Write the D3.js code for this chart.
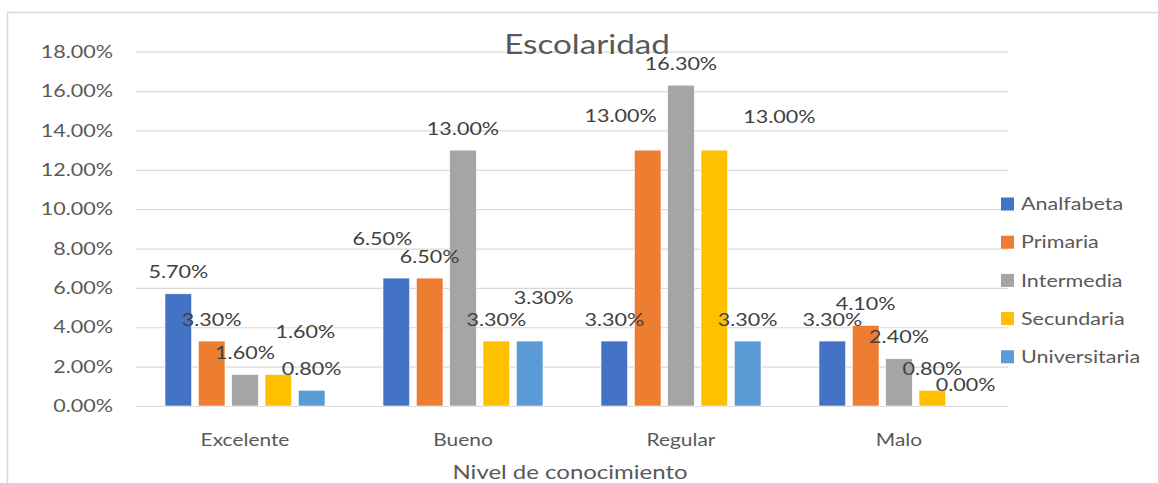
<!DOCTYPE html>
<html>
<head>
<meta charset="utf-8">
<script src="https://cdn.jsdelivr.net/npm/d3@7"></script>
<style>
  html, body { margin: 0; padding: 0; background: #ffffff; }
  svg { display: block; }
  text { font-family: Lato, "Open Sans", sans-serif; }
</style>
</head>
<body>
<svg id="chart" width="1158" height="483"></svg>
<script>
// Niveles de conocimiento (eje X) y grupos de escolaridad (series)
const categories = ["Excelente", "Bueno", "Regular", "Malo"];
const series = ["Analfabeta", "Primaria", "Intermedia", "Secundaria", "Universitaria"];

// Porcentaje de cada serie por nivel de conocimiento
const analfabeta    = [5.7, 6.5, 3.3, 3.3];
const primaria      = [3.3, 6.5, 13.0, 4.1];
const intermedia    = [1.6, 13.0, 16.3, 2.4];
const secundaria    = [1.6, 3.3, 13.0, 0.8];
const universitaria = [0.8, 3.3, 3.3, 0.0];

const yTicks = [0, 2, 4, 6, 8, 10, 12, 14, 16, 18];

const colors = ["#4472C4", "#ED7D31", "#A5A5A5", "#FFC000", "#5B9BD5"];

// Etiquetas de datos desplazadas a mano (dx, dy extra en px)
const labelNudge = {
  "Excelente|Secundaria": [27, -21],
  "Bueno|Analfabeta": [-14, -18],
  "Bueno|Universitaria": [14, -22],
  "Regular|Primaria": [-27, -13],
  "Regular|Secundaria": [65, -12]
};

const valuesBySeries = [analfabeta, primaria, intermedia, secundaria, universitaria];
const rows = [];
categories.forEach((c, ci) => {
  series.forEach((s, si) => {
    rows.push({ cat: c, ser: s, value: valuesBySeries[si][ci], si });
  });
});

const svg = d3.select("#chart");
const SX = 1.23; // horizontal stretch applied to all text

function label(g, x, y, str, size, fill, anchor) {
  return g.append("text")
    .attr("transform", `translate(${x},${y}) scale(${SX},1)`)
    .attr("text-anchor", anchor || "middle")
    .attr("dy", "0.35em")
    .style("font-size", size + "px")
    .style("fill", fill)
    .text(str);
}

// Marco exterior del gráfico
svg.append("path")
  .attr("d", "M7.5,483 L7.5,12.5 L1158,12.5")
  .attr("fill", "none")
  .attr("stroke", "#d9d9d9")
  .attr("stroke-width", 1.5);

const plot = { left: 136, right: 1008, top: 51.7, bottom: 406 };

const y = d3.scaleLinear().domain([0, 18]).range([plot.bottom, plot.top]);
const x0 = d3.scaleBand().domain(categories)
  .range([plot.left, plot.right]).paddingInner(0.266).paddingOuter(0.133);
const x1 = d3.scaleBand().domain(series)
  .range([0, x0.bandwidth()]).paddingInner(0.2).paddingOuter(0);

// Líneas de cuadrícula
const grid = svg.append("g")
  .attr("transform", `translate(${plot.left},0)`)
  .call(d3.axisLeft(y).tickValues(yTicks).tickSize(-(plot.right - plot.left)).tickFormat(""));
grid.select(".domain").remove();
grid.selectAll(".tick line").attr("stroke", "#d9d9d9").attr("stroke-width", 1.2);

// Etiquetas del eje Y
const yLab = svg.append("g");
yTicks.forEach(t => label(yLab, 113, y(t), d3.format(".2f")(t) + "%", 17.5, "#595959", "end"));

// Barras
const bars = svg.append("g");
bars.selectAll("rect").data(rows).join("rect")
  .attr("x", d => x0(d.cat) + x1(d.ser))
  .attr("y", d => y(d.value))
  .attr("width", x1.bandwidth())
  .attr("height", d => y(0) - y(d.value))
  .attr("fill", d => colors[d.si])
  .attr("stroke", "#ffffff")
  .attr("stroke-width", 0.6);

// Etiquetas de datos
const dl = svg.append("g");
rows.forEach(d => {
  const n = labelNudge[d.cat + "|" + d.ser] || [0, 0];
  const cx = x0(d.cat) + x1(d.ser) + x1.bandwidth() / 2 + n[0];
  const cy = y(d.value) - 21.5 + n[1];
  label(dl, cx, cy, d3.format(".2f")(d.value) + "%", 17.5, "#404040");
});

// Etiquetas de categoría
const xLab = svg.append("g");
categories.forEach(c => label(xLab, x0(c) + x0.bandwidth() / 2, 440, c, 17, "#595959"));

// Título del eje X
label(svg, 570, 472, "Nivel de conocimiento", 19.5, "#595959");

// Título del gráfico
label(svg, 587, 45, "Escolaridad", 27, "#595959");

// Leyenda
const legend = svg.append("g");
series.forEach((s, i) => {
  const cy = 204 + i * 38.2;
  legend.append("rect")
    .attr("x", 1001).attr("y", cy - 6.5)
    .attr("width", 13).attr("height", 13)
    .attr("fill", colors[i]);
  label(legend, 1021, cy, s, 17.5, "#595959", "start");
});
</script>
</body>
</html>
